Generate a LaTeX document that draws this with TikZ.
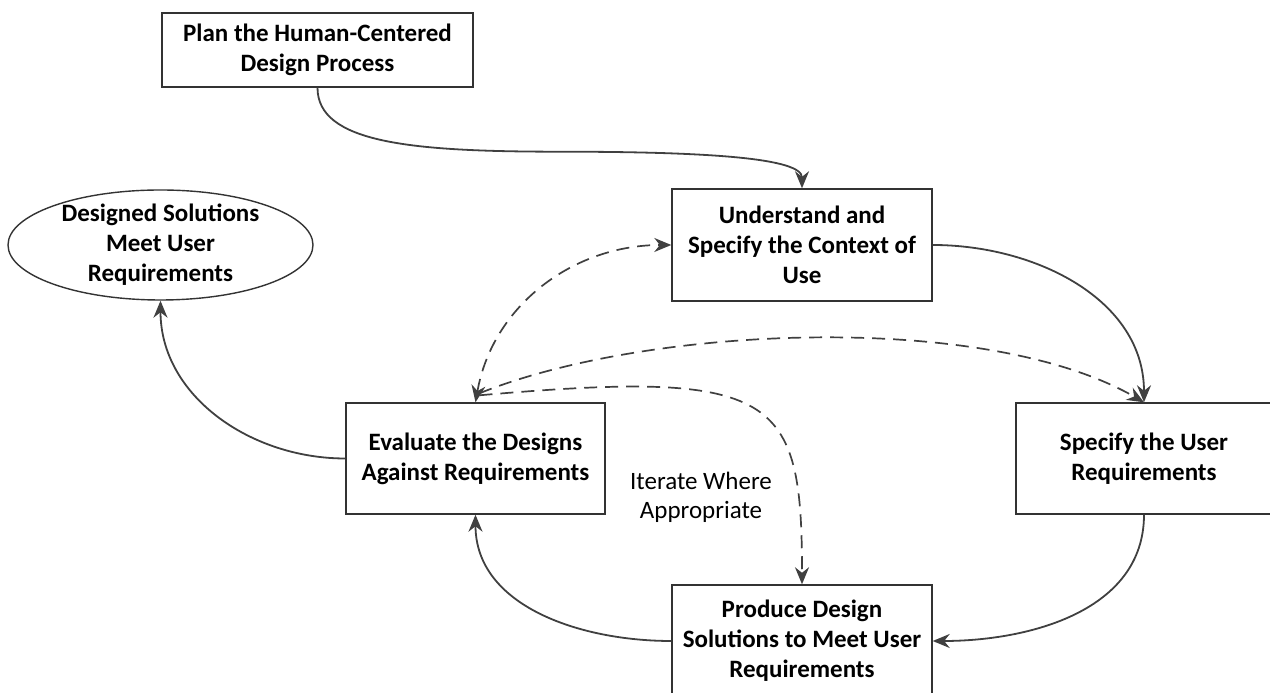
\documentclass[tikz,border=0pt]{standalone}
\usepackage{fontspec}
\setmainfont{Carlito}
\usetikzlibrary{shapes.geometric, positioning, arrows.meta}
\definecolor{linegray}{HTML}{404040}

\begin{document}
\begin{tikzpicture}[x=1pt, y=1pt, >={Stealth[length=17pt, width=14pt]}, on grid,
    stage/.style={draw=black!80, line width=1.4pt, fill=white, align=center, inner sep=0pt,
      font=\fontsize{25}{30}\selectfont\bfseries, minimum width=260pt, minimum height=112pt},
    flow/.style={-{Stealth[length=17pt, width=14pt]}, draw=linegray, line width=1.8pt},
    iter/.style={-{Stealth[length=17pt, width=14pt]}, draw=linegray, line width=1.7pt, dash pattern=on 13pt off 8pt}]
      \useasboundingbox (0,0) rectangle (1270,693);
      \node[stage] (ctx) at (802,448) {Understand and\\Specify the Context of\\Use};
      \node[stage, minimum width=311pt, minimum height=74pt, above left=195pt and 484.5pt of ctx] (plan) {Plan the Human-Centered\\Design Process};
      \node[stage, ellipse, minimum width=305pt, minimum height=110pt, inner ysep=-6pt, inner xsep=-6pt, left=641.5pt of ctx] (sol) {Designed Solutions\\Meet User\\Requirements};
      \node[stage, minimum width=259pt, minimum height=111pt, below left=213.5pt and 326.5pt of ctx] (eval) {Evaluate the Designs\\Against Requirements};
      \node[stage, minimum width=256pt, minimum height=111pt, below right=213.5pt and 342pt of ctx] (spec) {Specify the User\\Requirements};
      \node[stage, below=396pt of ctx] (prod) {Produce Design\\Solutions to Meet User\\Requirements};
      \node[align=center, font=\fontsize{25}{29}\selectfont, below right=38.5pt and 225.5pt of eval] (iterlbl) {Iterate Where\\Appropriate};
      \coordinate[below right=64pt and 242.5pt of plan.south] (bend);
      \draw[flow] (plan.south) to[out=-90, in=180, out distance=55pt, in distance=150pt] (bend)
                  to[out=0, in=90, out distance=150pt, in distance=30pt] (ctx.north);
      \path (ctx.east) edge[flow, out=0, in=90] (spec.north)
            (spec.south) edge[flow, out=-90, in=0] (prod.east)
            (prod.west) edge[flow, out=180, in=-90] (eval.south)
            (eval.west) edge[flow, out=180, in=-90] (sol.south)
            (eval.north) edge[iter, {Stealth[length=17pt, width=14pt]}-{Stealth[length=17pt, width=14pt]}, out=80, in=180] (ctx.west)
            ([shift={(4pt,9pt)}]eval.north) edge[iter, out=22, in=150, looseness=0.7] (spec.north)
            ([shift={(4pt,7pt)}]eval.north) edge[iter, out=5, in=90, out distance=300pt, in distance=190pt] (prod.north);
    \end{tikzpicture}
\end{document}
